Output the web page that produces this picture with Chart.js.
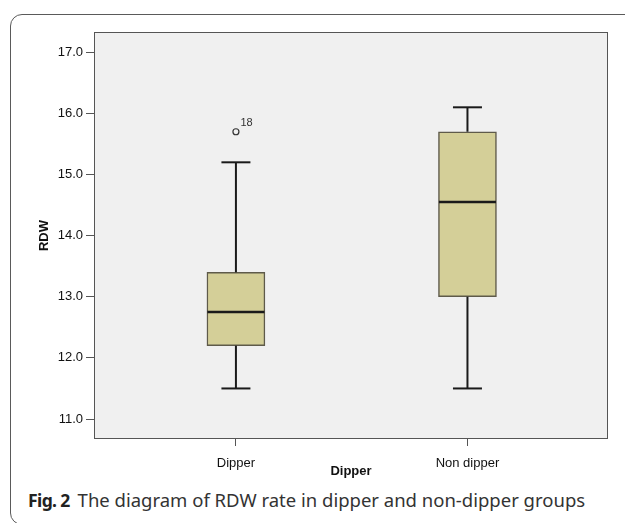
<!DOCTYPE html>
<html>
<head>
<meta charset="utf-8">
<script src="https://cdn.jsdelivr.net/npm/chart.js@4/dist/chart.umd.min.js"></script>
<style>
    html, body { margin: 0; padding: 0; background: #fff; }
    #wrap { position: relative; width: 625px; height: 523px; overflow: hidden; }
    #frame {
        position: absolute; left: 10px; top: 14px; width: 640px; height: 511px;
        border: 1.5px solid #5a5a5a; border-radius: 12px; box-sizing: border-box;
    }
    #holder { position: absolute; left: 0; top: 0; width: 625px; height: 485px; }
    #caption {
        position: absolute; left: 28px; top: 487px; font-family: "Noto Sans", sans-serif;
        font-size: 18.5px; color: #333; white-space: nowrap;
    }
    #caption b { color: #222; font-size: 17.5px; letter-spacing: -0.6px; margin-right: 3px; }
</style>
</head>
<body>
<div id="wrap">
    <div id="frame"></div>
    <div id="holder"><canvas id="chart"></canvas></div>
    <div id="caption"><b>Fig. 2</b> The diagram of RDW rate in dipper and non-dipper groups</div>
</div>
<script>
// box plot values
const groups = ['Dipper', 'Non dipper'];
const groupPos = [1, 2];
const whiskerLow = [11.5, 11.5];
const q1 = [12.2, 13.0];
const median = [12.75, 14.55];
const q3 = [13.4, 15.7];
const whiskerHigh = [15.2, 16.1];
const outlierGroup = [0];
const outlierValues = [15.7];
const outlierLabels = ['18'];
const yTicks = [11, 12, 13, 14, 15, 16, 17];

const boxPlugin = {
    id: 'boxplot',
    beforeDraw(chart) {
        const { ctx, chartArea: a } = chart;
        ctx.save();
        ctx.fillStyle = '#f0f0f0';
        ctx.fillRect(a.left, a.top, a.right - a.left, a.bottom - a.top);
        ctx.restore();
    },
    afterDatasetsDraw(chart) {
        const { ctx, chartArea: a } = chart;
        const x = chart.scales.x, y = chart.scales.y;
        const line = (x1, y1, x2, y2) => {
            ctx.beginPath(); ctx.moveTo(x1, y1); ctx.lineTo(x2, y2); ctx.stroke();
        };
        ctx.save();
        ctx.strokeStyle = '#1a1a1a';
        groupPos.forEach((g, i) => {
            const cx = x.getPixelForValue(g);
            ctx.lineWidth = 2;
            // whiskers
            line(cx, y.getPixelForValue(q3[i]), cx, y.getPixelForValue(whiskerHigh[i]));
            line(cx, y.getPixelForValue(q1[i]), cx, y.getPixelForValue(whiskerLow[i]));
            line(cx - 14.5, y.getPixelForValue(whiskerHigh[i]), cx + 14.5, y.getPixelForValue(whiskerHigh[i]));
            line(cx - 14.5, y.getPixelForValue(whiskerLow[i]), cx + 14.5, y.getPixelForValue(whiskerLow[i]));
            // median
            ctx.lineWidth = 2.5;
            line(cx - 28.5, y.getPixelForValue(median[i]), cx + 28.5, y.getPixelForValue(median[i]));
        });
        // outliers
        ctx.lineWidth = 1.2;
        ctx.strokeStyle = '#333';
        ctx.fillStyle = '#333';
        ctx.font = '11px "Liberation Sans", Arial, sans-serif';
        ctx.textBaseline = 'alphabetic';
        outlierValues.forEach((v, i) => {
            const cx = x.getPixelForValue(groupPos[outlierGroup[i]]);
            const cy = y.getPixelForValue(v);
            ctx.beginPath(); ctx.arc(cx, cy, 3, 0, Math.PI * 2); ctx.stroke();
            ctx.fillText(outlierLabels[i], cx + 4.5, cy - 6);
        });
        // plot frame
        ctx.strokeStyle = '#555';
        ctx.lineWidth = 1;
        ctx.strokeRect(a.left + 0.5, a.top + 0.5, a.right - a.left - 1, a.bottom - a.top - 1);
        ctx.restore();
    }
};

const tickFont = { family: '"Liberation Sans", Arial, sans-serif', size: 13 };
const titleFont = { family: '"Liberation Sans", Arial, sans-serif', size: 13, weight: 'bold' };

new Chart(document.getElementById('chart'), {
    type: 'bar',
    data: {
        datasets: [{
            data: groupPos.map((g, i) => ({ x: g, y: [q1[i], q3[i]] })),
            backgroundColor: '#d4cf98',
            borderColor: '#5e5a4a',
            borderWidth: 1.5,
            borderSkipped: false,
            barThickness: 58
        }]
    },
    options: {
        responsive: true,
        maintainAspectRatio: false,
        animation: false,
        layout: { padding: { left: 0, right: 17, top: 32, bottom: 0 } },
        plugins: { legend: { display: false }, tooltip: { enabled: false } },
        scales: {
            x: {
                type: 'linear',
                offset: false,
                min: 0.387,
                max: 2.607,
                afterBuildTicks: (s) => { s.ticks = groupPos.map(v => ({ value: v })); },
                afterFit: (s) => { s.height = 46; },
                ticks: {
                    callback: (v) => groups[groupPos.indexOf(v)] || '',
                    font: tickFont, color: '#111', padding: 10, maxRotation: 0
                },
                grid: { drawOnChartArea: false, offset: false, tickLength: 7, color: '#555' },
                border: { display: false },
                title: {
                    display: true, text: 'Dipper', color: '#111', font: titleFont,
                    padding: { top: 0, bottom: 6 }
                }
            },
            y: {
                min: 10.673,
                max: 17.332,
                afterBuildTicks: (s) => { s.ticks = yTicks.map(v => ({ value: v })); },
                afterFit: (s) => { s.width = 94; },
                ticks: {
                    callback: (v) => v.toFixed(1),
                    font: tickFont, color: '#111', padding: 3
                },
                grid: { drawOnChartArea: false, tickLength: 8, color: '#555' },
                border: { display: false },
                title: {
                    display: true, text: 'RDW', color: '#111', font: titleFont,
                    padding: { top: 37, bottom: 0 }
                }
            }
        }
    },
    plugins: [boxPlugin]
});
</script>
</body>
</html>
